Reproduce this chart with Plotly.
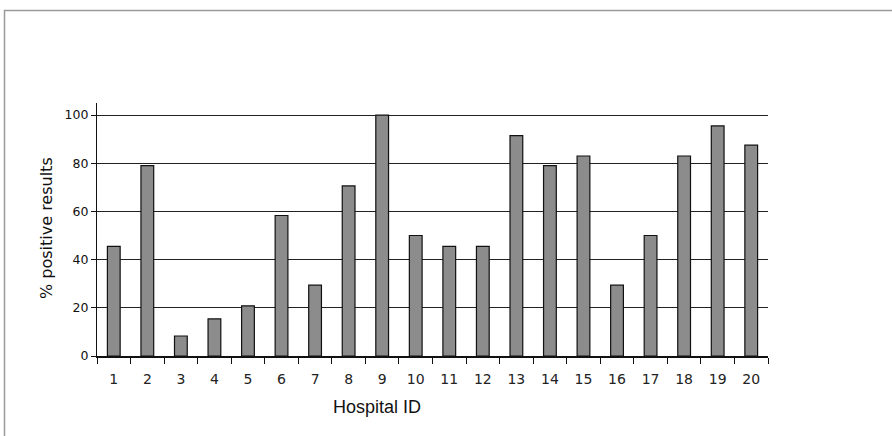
import plotly.graph_objects as go

hospital_ids = [str(i) for i in range(1, 21)]
pct_positive = [45.5, 79, 8.3, 15.4, 20.8, 58.3, 29.4, 70.6, 100, 50,
                45.5, 45.5, 91.5, 79, 83, 29.4, 50, 83, 95.5, 87.5]
y_ticks = [0, 20, 40, 60, 80, 100]

W, H = 892, 436
L, R, T, B = 97, 124, 103, 80
pw, ph = W - L - R, H - T - B

def px(x):
    return (x - L) / pw

def py(y):
    return (H - B - y) / ph

fnt = "DejaVu Sans, Verdana, sans-serif"

fig = go.Figure(go.Bar(
    x=hospital_ids, y=pct_positive,
    marker=dict(color="#8c8c8c", line=dict(color="#111111", width=1.2)),
))

fig.update_layout(
    width=W, height=H,
    margin=dict(l=L, r=R, t=T, b=B),
    paper_bgcolor="white", plot_bgcolor="white",
    bargap=0.62, showlegend=False,
    font=dict(family=fnt, color="#111111", size=13),
    xaxis=dict(type="category", tickson="boundaries", ticks="outside", ticklen=6,
               tickcolor="#111111", tickwidth=1.2, showline=True, linecolor="#111111",
               linewidth=1.5, showgrid=False, tickfont=dict(size=14, color="#222222"),
               ticklabelstandoff=9, fixedrange=True),
    yaxis=dict(range=[0, 105], tickvals=y_ticks, ticks="outside", ticklen=5,
               tickcolor="#111111", tickwidth=1.2, showline=True, linecolor="#111111",
               linewidth=1.2, showgrid=True, gridcolor="#222222", gridwidth=1.3,
               zeroline=False, tickfont=dict(size=12.5), fixedrange=True),
    annotations=[
        dict(text="% positive results", textangle=-90, x=px(46), y=py(228),
             xref="paper", yref="paper", showarrow=False, xanchor="center",
             yanchor="middle", font=dict(size=16)),
        dict(text="Hospital ID", x=px(377), y=py(407), xref="paper", yref="paper",
             showarrow=False, xanchor="center", yanchor="middle",
             font=dict(size=18, family="Liberation Sans, Arial, sans-serif")),
    ],
    shapes=[
        dict(type="path", xref="paper", yref="paper",
             path=f"M {px(4.5)} {py(440)} L {px(4.5)} {py(10.5)} L {px(900)} {py(10.5)}",
             line=dict(color="#9a9a9a", width=1.5)),
    ],
)

fig.write_html("out.html", config={"displayModeBar": False},
               post_script="document.body.style.margin='0';")
